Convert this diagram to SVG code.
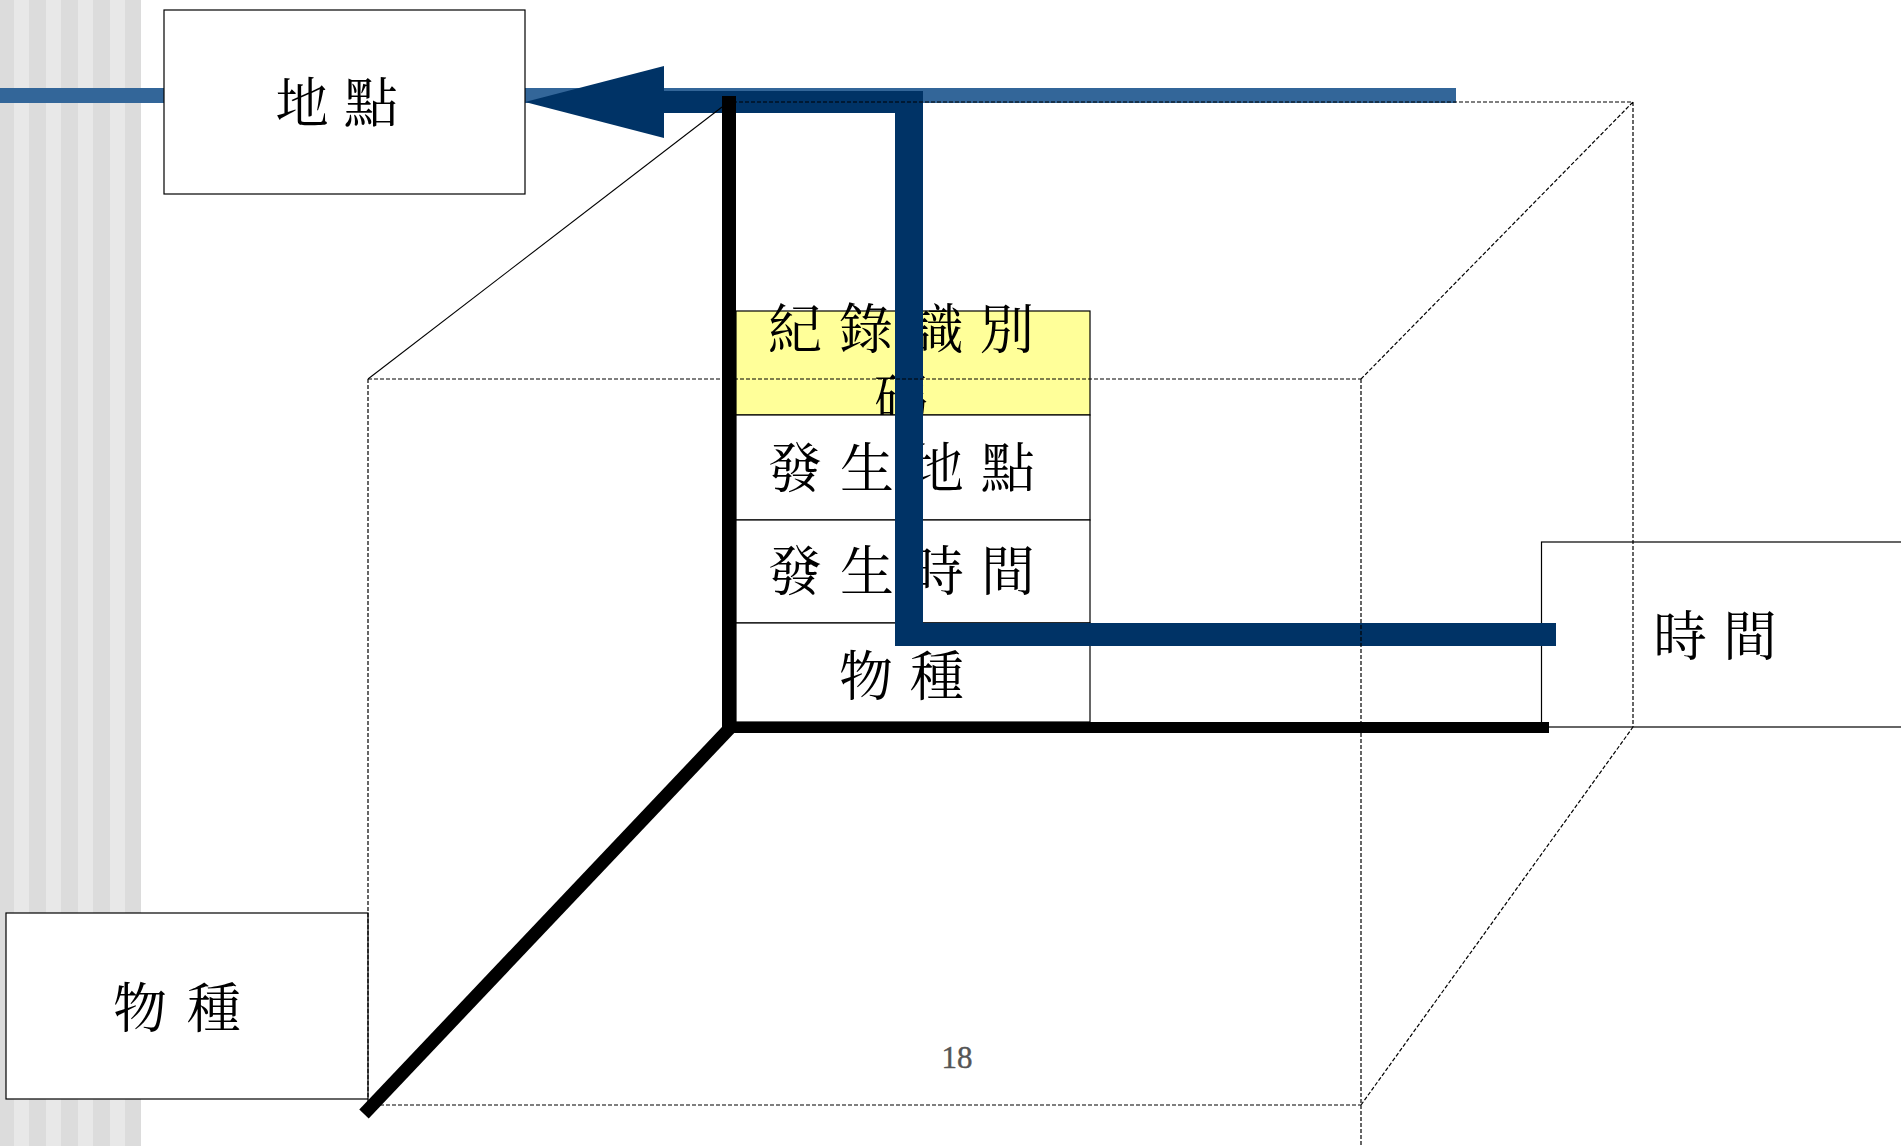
<svg xmlns="http://www.w3.org/2000/svg" width="1901" height="1146" viewBox="0 0 1901 1146">
  <style>
    .box { fill: #ffffff; stroke: #000000; stroke-width: 1.2; }
    .cell { fill: #ffffff; stroke: #000000; stroke-width: 1.2; }
    .cell-y { fill: #ffff99; stroke: #000000; stroke-width: 1.2; }
    .lbl { font-family: "Noto Serif CJK TC", "Noto Sans CJK TC", serif; font-size: 54px; fill: #000000; text-anchor: middle; }
    .dash { fill: none; stroke: #000000; stroke-width: 1.2; stroke-dasharray: 4 2; }
    .thin { fill: none; stroke: #000000; stroke-width: 1.1; }
    .pg { font-family: "Liberation Serif", serif; font-size: 31px; fill: #555555; stroke: #555555; stroke-width: 0.4; text-anchor: middle; }
  </style>

  <!-- background stripes -->
  <g id="stripes">
    <rect x="0" y="0" width="141" height="1146" fill="#e8e8e8"/>
    <rect x="0" y="0" width="14" height="1146" fill="#dcdcdc"/>
    <rect x="29" y="0" width="17" height="1146" fill="#dcdcdc"/>
    <rect x="61" y="0" width="17" height="1146" fill="#dcdcdc"/>
    <rect x="93" y="0" width="17" height="1146" fill="#dcdcdc"/>
    <rect x="125" y="0" width="16" height="1146" fill="#dcdcdc"/>
  </g>

  <!-- light blue axis bar -->
  <g id="location-axis">
    <rect x="0" y="88" width="1456" height="15" fill="#336699"/>
  </g>

  <!-- nodes -->
  <g id="node-location">
    <rect class="box" x="164" y="10" width="361" height="184"/>
    <text class="lbl" x="302 336 371" y="123">地 點</text>
  </g>
  <g id="node-time">
    <rect class="box" x="1541.5" y="542" width="400" height="185"/>
    <text class="lbl" x="1680 1715 1750" y="656">時 間</text>
  </g>
  <g id="node-species">
    <rect class="box" x="6" y="913" width="362" height="186"/>
    <text class="lbl" x="140 177 214" y="1028">物 種</text>
  </g>

  <!-- record table -->
  <g id="node-table">
    <rect class="cell-y" x="736" y="311" width="354" height="104"/>
    <text class="lbl"><tspan x="795 830 866 901 936.5 972 1007" y="349">紀 錄 識 別</tspan><tspan x="901" y="419">碼</tspan></text>
    <rect class="cell" x="736" y="415" width="354" height="105"/>
    <text class="lbl" x="795 831 867 902 937 972 1008" y="488">發 生 地 點</text>
    <rect class="cell" x="736" y="520" width="354" height="103"/>
    <text class="lbl" x="795 831 867 902 937 972 1008" y="591">發 生 時 間</text>
    <rect class="cell" x="736" y="623" width="354" height="99"/>
    <text class="lbl" x="866 901 937" y="696">物 種</text>
  </g>

  <!-- connectors -->
  <g id="connectors">
    <polygon points="664,91 923,91 923,623 1556,623 1556,646 895,646 895,113 664,113" fill="#003366"/>
    <polygon points="525,102 664,66 664,138" fill="#003366"/>
  </g>

  <!-- cube outline -->
  <g id="cube">
    <line class="thin" x1="368" y1="379" x2="722" y2="107"/>
    <path class="dash" d="M368,379 H1361 M368,379 V1105 H1361 M1361,379 V1146 M727,102 H1633 V727 M1361,379 L1633,102 M1361,1105 L1633,727"/>
  </g>

  <!-- black axes -->
  <g id="axes">
    <rect x="722" y="96" width="14" height="637" fill="#000000"/>
    <rect x="722" y="722" width="827" height="11" fill="#000000"/>
    <line x1="730" y1="728" x2="364" y2="1114" stroke="#000000" stroke-width="13"/>
  </g>

  <text class="pg" x="957" y="1068">18</text>
</svg>
